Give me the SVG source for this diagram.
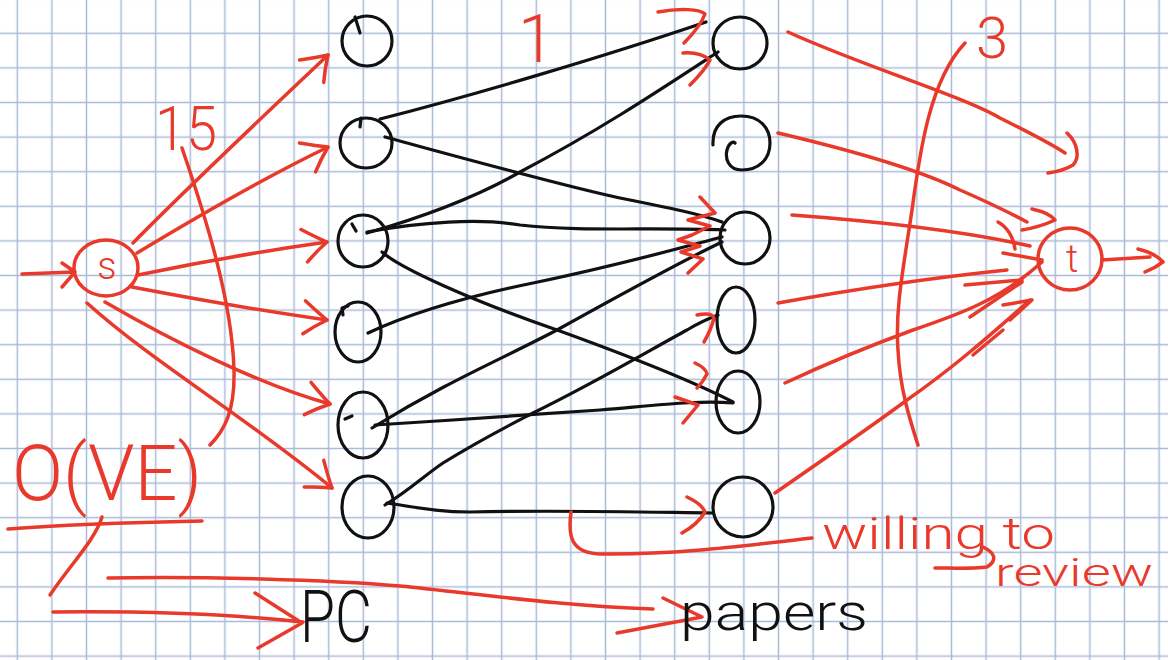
<svg xmlns="http://www.w3.org/2000/svg" width="1168" height="660" viewBox="0 0 1168 660">
<defs>
<pattern id="grid" patternUnits="userSpaceOnUse" x="0" y="16" width="34.6" height="34.6">
<path d="M17.3,0 V34.6 M0,17.3 H34.6" stroke="#a9bbd8" stroke-width="1.5" fill="none"/>
</pattern>
<marker id="ah" markerUnits="userSpaceOnUse" viewBox="-30 -20 34 40" refX="0" refY="0" markerWidth="34" markerHeight="40" orient="auto" overflow="visible">
<path d="M-24,-16 Q-10,-6 0,0 Q-12,8 -22,17" fill="none" stroke="#e8392b" stroke-width="3.5" stroke-linecap="round" stroke-linejoin="round"/>
</marker>
</defs>
<style>
.r{fill:none;stroke:#e8392b;stroke-width:3.5;stroke-linecap:round;stroke-linejoin:round}
.k{fill:none;stroke:#111;stroke-width:3.2;stroke-linecap:round;stroke-linejoin:round}
.ra{marker-end:url(#ah)}
.rt{fill:#e8392b;font-family:Roboto,Inter,"Liberation Sans",sans-serif;font-weight:300}
.kt{fill:#111;font-family:Roboto,Inter,"Liberation Sans",sans-serif;font-weight:300}
</style>
<rect width="1168" height="660" fill="#fff"/>
<rect width="1168" height="660" fill="url(#grid)"/>

<g id="connectors">
<!-- into s -->
<path class="r" d="M22,274 L74,272 M62,263 L75,272 L62,287"/>
<!-- s to PC -->
<path class="r ra" d="M133,243 C190,185 270,110 328,55"/>
<path class="r ra" d="M137,253 C200,215 270,175 328,147"/>
<path class="r ra" d="M138,275 C200,262 270,250 327,242"/>
<path class="r ra" d="M132,287 C200,300 270,312 327,320"/>
<path class="r ra" d="M105,302 C170,340 260,385 330,404"/>
<path class="r ra" d="M87,303 C150,360 250,420 332,488"/>
<!-- PC to papers (black) -->
<path class="k" d="M380,119 C470,96 600,58 706,22"/>
<path class="k" d="M367,233 C430,215 480,195 520,172 C600,130 660,90 718,52"/>
<path class="k" d="M385,137 C470,160 560,185 620,198 C670,208 700,214 722,222"/>
<path class="k" d="M367,232 C420,222 480,218 520,225 C580,232 650,227 725,230"/>
<path class="k" d="M368,333 C400,318 450,300 533,283 C620,265 680,248 722,237"/>
<path class="k" d="M382,252 C400,268 470,300 557,330 C640,360 700,385 733,402"/>
<path class="k" d="M372,428 C450,380 500,360 557,330 C620,295 680,262 722,242"/>
<path class="k" d="M375,425 C450,420 520,416 600,410 C660,405 700,400 733,403"/>
<path class="k" d="M385,505 C410,490 425,475 443,463 C480,440 500,430 533,413 C600,380 650,350 687,330 C700,322 710,318 718,315"/>
<path class="k" d="M387,503 C420,508 440,512 470,512 C560,510 640,512 712,513"/>
<!-- red heads on black edges -->
<path class="r" d="M658,12 C680,8 700,9 705,14 C701,25 692,35 684,43"/>
<path class="r" d="M683,53 C695,52 704,55 710,60 C705,70 697,78 690,85"/>
<path class="r" d="M700,197 L715,213 L688,220 L710,226 L692,235 L678,240 L700,246 L681,252 L703,259 L688,273"/>
<path class="r" d="M697,315 Q712,312 714,318 Q711,330 704,342"/>
<path class="r" d="M695,363 Q706,368 707,374 Q703,382 697,388"/>
<path class="r" d="M675,397 L698,405 L683,423"/>
<path class="r" d="M687,497 Q702,504 705,512 Q698,524 682,533"/>
<!-- papers to t -->
<path class="r" d="M788,32 C860,65 960,95 1000,118 C1030,133 1050,143 1065,153"/>
<path class="r" d="M1067,133 C1078,143 1080,158 1073,165 C1065,170 1055,172 1048,173"/>
<path class="r" d="M778,133 C850,150 920,170 960,190 C990,203 1010,213 1027,222"/>
<path class="r" d="M1032,209 Q1050,213 1055,220 Q1040,227 1022,230"/>
<path class="r" d="M792,215 C860,220 950,228 1030,246"/>
<path class="r" d="M998,222 Q1012,230 1015,249"/>
<path class="r" d="M778,303 C850,290 930,278 1007,270"/>
<path class="r" d="M1003,253 L1042,260"/>
<path class="r" d="M965,285 L1022,280"/>
<path class="r" d="M785,383 C830,362 880,342 913,330 C960,314 1000,300 1042,262"/>
<path class="r" d="M970,317 L1022,282"/>
<path class="r" d="M1003,305 L1032,300 L1010,320"/>
<path class="r" d="M775,493 C830,455 880,420 907,400 C950,370 985,340 1030,300"/>
<path class="r" d="M973,355 L1003,330"/>
<!-- out of t -->
<path class="r" d="M1102,260 C1120,259 1135,258 1150,257 M1138,249 Q1155,253 1163,262 Q1155,268 1145,272"/>
<!-- cut curves -->
<path class="r" d="M182,148 C205,215 232,300 234,370 C235,410 225,430 210,445"/>
<path class="r" d="M965,43 C930,80 920,150 912,210 C903,270 895,310 898,350 C900,390 910,420 918,445"/>
<!-- bracket to willing to review -->
<path class="r" d="M571,512 C568,535 570,553 600,554 C680,555 750,545 812,538"/>
<!-- bottom left strokes -->
<path class="r" d="M8,529 C70,524 150,522 202,521"/>
<path class="r" d="M102,517 C95,540 70,565 50,595"/>
<path class="r" d="M53,612 C150,611 230,614 303,622 M255,593 L302,623 L258,648"/>
<path class="r" d="M108,578 C200,576 330,580 400,586 C480,594 560,606 653,609"/>
<path class="r" d="M617,633 L702,617 M663,598 L702,617"/>
</g>

<g id="node-s">
<ellipse class="r" cx="106" cy="268" rx="32" ry="28"/>
<text class="rt" x="107" y="279" font-size="38" text-anchor="middle">s</text>
</g>
<g id="node-t">
<ellipse class="r" cx="1070" cy="259" rx="32" ry="31"/>
<text class="rt" x="1072" y="272" font-size="38" text-anchor="middle">t</text>
</g>

<g id="pc-1"><ellipse class="k" cx="367" cy="41" rx="25" ry="25"/><path class="k" d="M360,33 L355,17"/></g>
<g id="pc-2"><ellipse class="k" cx="366" cy="143" rx="26" ry="25"/><path class="k" d="M360,127 L361,118"/></g>
<g id="pc-3"><ellipse class="k" cx="363" cy="241" rx="25" ry="26"/><path class="k" d="M356,231 L352,224"/></g>
<g id="pc-4"><ellipse class="k" cx="358" cy="332" rx="23" ry="30"/><path class="k" d="M343,315 L342,308 L348,306"/></g>
<g id="pc-5"><ellipse class="k" cx="363" cy="425" rx="25" ry="33"/><path class="k" d="M345,419 L352,416"/></g>
<g id="pc-6"><ellipse class="k" cx="368" cy="507" rx="26" ry="31"/></g>

<g id="paper-1"><ellipse class="k" cx="740" cy="43" rx="27" ry="26"/></g>
<g id="paper-2"><path class="k" d="M713,145 C712,125 725,116 741,116 C760,116 770,128 770,143 C770,160 758,170 742,170 C728,170 725,158 727,150 C729,143 733,141 735,143"/></g>
<g id="paper-3"><ellipse class="k" cx="745" cy="238" rx="25" ry="26"/></g>
<g id="paper-4"><ellipse class="k" cx="736" cy="320" rx="19" ry="33"/></g>
<g id="paper-5"><ellipse class="k" cx="738" cy="402" rx="22" ry="31"/></g>
<g id="paper-6"><ellipse class="k" cx="743" cy="507" rx="30" ry="30"/></g>

<g id="labels">
<text class="rt" x="155" y="150" font-size="62" textLength="62" lengthAdjust="spacingAndGlyphs">15</text>
<text class="rt" x="518" y="62" font-size="66">1</text>
<text class="rt" x="976" y="58" font-size="58">3</text>
<text class="rt" x="12" y="500" font-size="78" textLength="190" lengthAdjust="spacingAndGlyphs">O(VE)</text>
<text class="kt" x="300" y="642" font-size="72" textLength="72" lengthAdjust="spacingAndGlyphs">PC</text>
<text class="kt" x="680" y="630" font-size="52" textLength="188" lengthAdjust="spacingAndGlyphs">papers</text>
<text class="rt" x="822" y="549" font-size="44" textLength="233" lengthAdjust="spacingAndGlyphs">willing to</text>
<text class="rt" x="995" y="586" font-size="38" textLength="158" lengthAdjust="spacingAndGlyphs">review</text>
<path class="r" d="M983,547 C995,553 998,560 987,567 C970,569 950,568 935,568"/>
</g>
</svg>
